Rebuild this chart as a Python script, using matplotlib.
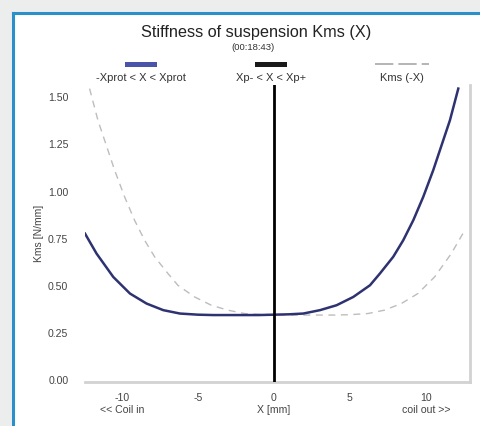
import numpy as np
import matplotlib.pyplot as plt
from matplotlib.patches import Rectangle
from matplotlib.lines import Line2D

plt.rcParams['font.family'] = ['Liberation Sans', 'DejaVu Sans']

# Kms(X), X in mm, Kms in N/mm
x_mm = [-12.43, -11.67, -10.57, -9.47, -8.38, -7.28, -6.18, -5.0, -4.0, -3.0, -2.0, -1.0, 0.0,
        1.0, 1.93, 3.03, 4.12, 5.22, 6.32, 6.97, 7.85, 8.51, 9.17, 9.82, 10.48, 10.92,
        11.58, 12.13]
kms = [0.777, 0.671, 0.547, 0.459, 0.406, 0.371, 0.353, 0.347, 0.345, 0.345, 0.345, 0.345, 0.347,
       0.349, 0.353, 0.371, 0.397, 0.441, 0.503, 0.565, 0.654, 0.742, 0.848, 0.971, 1.113, 1.219,
       1.378, 1.546]

y_ticks = [0.0, 0.25, 0.5, 0.75, 1.0, 1.25, 1.5]
x_ticks = [-10, -5, 0, 5, 10]
x_tick_labels = ["-10\n<< Coil in", "-5", "0\nX [mm]", "5", "10\ncoil out >>"]
legend_labels = ["-Xprot < X < Xprot", "Xp- < X < Xp+", "Kms (-X)"]


def draw_chart():
    fig = plt.figure(figsize=(4.81, 4.26), dpi=100)
    fig.patch.set_facecolor('#eceeee')

    # white panel with blue frame on the left and top
    fig.patches.append(Rectangle((13 / 481, 0), 1, 1 - 13 / 426, transform=fig.transFigure,
                                 facecolor='white', edgecolor='none', zorder=-5))
    fig.add_artist(Line2D([13 / 481, 13 / 481], [0, 1 - 13 / 426], color='#2b8fc9', lw=2.2))
    fig.add_artist(Line2D([13 / 481, 1], [1 - 13 / 426, 1 - 13 / 426], color='#2b8fc9', lw=2.2))

    ax = fig.add_axes([85 / 481, 1 - 382 / 426, 385 / 481, 297 / 426])
    ax.set_zorder(5)
    ax.set_facecolor('white')

    x = np.array(x_mm)
    k = np.array(kms)
    ax.plot(-x[::-1], k[::-1], color='#bdbdbd', lw=1.0, ls=(0, (5, 4)), zorder=2)
    ax.plot(x, k, color='#2e3270', lw=1.8, zorder=3, solid_joinstyle='round')
    ax.axvline(0, color='black', lw=2.0, zorder=4)

    ax.set_xlim(-12.43, 12.9)
    ax.set_ylim(-0.01, 1.565)

    for s in ['top', 'left']:
        ax.spines[s].set_visible(False)
    for s in ['bottom', 'right']:
        ax.spines[s].set_color('#d2d2d2')
        ax.spines[s].set_linewidth(2.0)
        ax.spines[s].set_linestyle((0, (1, 1)))

    ax.set_yticks(y_ticks)
    ax.set_yticklabels([f"{v:.2f}" for v in y_ticks])
    ax.set_xticks(x_ticks)
    ax.set_xticklabels(x_tick_labels, linespacing=1.2)
    ax.tick_params(axis='both', length=0, labelsize=7.6, colors='#444444')
    ax.tick_params(axis='y', pad=12)
    ax.tick_params(axis='x', pad=8)
    ax.set_ylabel("Kms [N/mm]", fontsize=7.5, color='#444444', labelpad=3)

    fig.text(256 / 481, 1 - 33 / 426, "Stiffness of suspension Kms (X)",
             ha='center', va='center', fontsize=11.7, color='#222222')
    fig.text(253 / 481, 1 - 48 / 426, "(00:18:43)",
             ha='center', va='center', fontsize=6.8, color='#333333')

    # legend: sample above label
    centers = [141, 271, 402]
    for cx, lab, i in zip(centers, legend_labels, range(3)):
        if i == 0:
            fig.patches.append(Rectangle(((cx - 16) / 481, 1 - 67 / 426), 32 / 481, 5 / 426,
                                         transform=fig.transFigure, facecolor='#4a55aa'))
        elif i == 1:
            fig.patches.append(Rectangle(((cx - 16) / 481, 1 - 67 / 426), 32 / 481, 5 / 426,
                                         transform=fig.transFigure, facecolor='#1a1a1a'))
        else:
            fig.add_artist(Line2D([(cx - 27) / 481, (cx + 27) / 481], [1 - 64 / 426, 1 - 64 / 426],
                                  color='#a8a8a8', lw=1.2, ls=(0, (11, 3))))
        fig.text(cx / 481, 1 - 78 / 426, lab, ha='center', va='center',
                 fontsize=8, color='#333333')

    fig.savefig('out.png', dpi=100)


if __name__ == "__main__":
    draw_chart()
